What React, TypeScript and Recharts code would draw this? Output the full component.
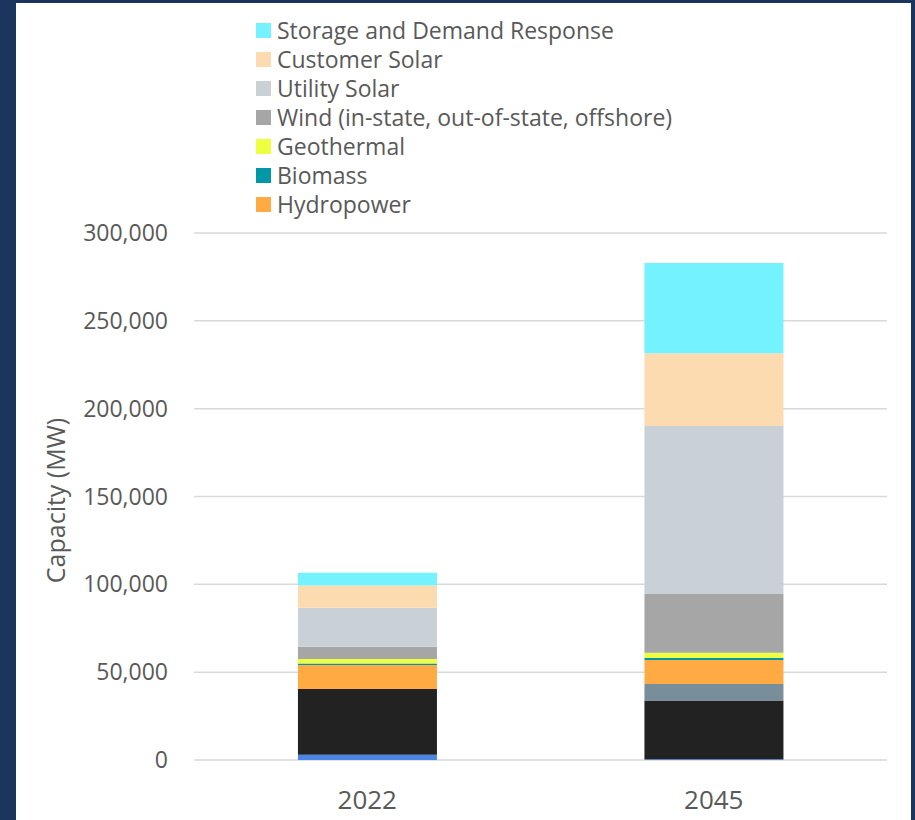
import React from 'react';
import { BarChart, Bar, XAxis, YAxis, CartesianGrid, Legend } from 'recharts';

// ---- data ----
const categories = ['2022', '2045'];
const nuclear = [3000, 400];
const naturalGas = [37400, 33400];
const zeroCarbonFirm = [0, 9500];
const hydropower = [13700, 13600];
const biomass = [900, 1200];
const geothermal = [2500, 3000];
const wind = [7000, 33400];
const utilitySolar = [22200, 95600];
const customerSolar = [12700, 41500];
const storage = [7200, 51300];
const yTicks = [0, 50000, 100000, 150000, 200000, 250000, 300000];

const data = categories.map((year, i) => ({
  year,
  nuclear: nuclear[i],
  naturalGas: naturalGas[i],
  zeroCarbonFirm: zeroCarbonFirm[i],
  hydropower: hydropower[i],
  biomass: biomass[i],
  geothermal: geothermal[i],
  wind: wind[i],
  utilitySolar: utilitySolar[i],
  customerSolar: customerSolar[i],
  storage: storage[i],
}));

// bottom -> top stacking order
const SERIES = [
  { key: 'nuclear', name: 'Nuclear', color: '#4A86E8', legend: false },
  { key: 'naturalGas', name: 'Natural Gas', color: '#222222', legend: false },
  { key: 'zeroCarbonFirm', name: 'Zero-Carbon Firm', color: '#788F9B', legend: false },
  { key: 'hydropower', name: 'Hydropower', color: '#FFAA42', legend: true },
  { key: 'biomass', name: 'Biomass', color: '#0097A7', legend: true },
  { key: 'geothermal', name: 'Geothermal', color: '#EEFF41', legend: true },
  { key: 'wind', name: 'Wind (in-state, out-of-state, offshore)', color: '#A6A6A6', legend: true },
  { key: 'utilitySolar', name: 'Utility Solar', color: '#C9D1D7', legend: true },
  { key: 'customerSolar', name: 'Customer Solar', color: '#FDDBB0', legend: true },
  { key: 'storage', name: 'Storage and Demand Response', color: '#75F2FF', legend: true },
];

const FONT = '"Open Sans", "Noto Sans", sans-serif';
const TEXT = '#595959';

const orderOf = (key: string) => SERIES.findIndex((s) => s.key === key);
const legendKeys = SERIES.filter((s) => s.legend).map((s) => s.key);

const renderLegend = (props: any) => {
  const items = (props.payload || [])
    .filter((p: any) => legendKeys.includes(p.dataKey))
    .slice()
    .sort((a: any, b: any) => orderOf(b.dataKey) - orderOf(a.dataKey));
  return (
    <div style={{ fontFamily: FONT }}>
      {items.map((p: any) => (
        <div
          key={p.dataKey}
          style={{ display: 'flex', alignItems: 'center', height: 29 }}
        >
          <span
            style={{
              display: 'inline-block',
              width: 15,
              height: 15,
              background: p.color,
              marginRight: 6,
              flex: 'none',
            }}
          />
          <span style={{ fontSize: 23, color: TEXT, lineHeight: '29px', whiteSpace: 'nowrap' }}>
            {p.value}
          </span>
        </div>
      ))}
    </div>
  );
};

const YLabel = (props: any) => {
  const vb = props.viewBox || {};
  const cx = 65;
  const cy = vb.y + vb.height / 2 + 4;
  return (
    <text
      x={cx}
      y={cy}
      transform={`rotate(-90, ${cx}, ${cy})`}
      textAnchor="middle"
      fontSize={25}
      fontFamily={FONT}
      fill={TEXT}
    >
      Capacity (MW)
    </text>
  );
};

export default function App() {
  return (
    <div
      style={{
        position: 'absolute',
        left: 0,
        top: 0,
        width: 915,
        height: 820,
        background: '#1C355E',
        overflow: 'hidden',
      }}
    >
      <div
        style={{
          position: 'absolute',
          left: 16,
          top: 3,
          width: 895,
          height: 817,
          background: '#FFFFFF',
        }}
      />
      <div style={{ position: 'absolute', left: 0, top: 0 }}>
        <BarChart
          width={915}
          height={820}
          data={data}
          margin={{ top: 233, right: 28, bottom: 0, left: 0 }}
          barCategoryGap="30%"
        >
          <CartesianGrid vertical={false} stroke="#D9D9D9" strokeWidth={1.5} />
          <XAxis
            dataKey="year"
            height={60}
            axisLine={false}
            tickLine={false}
            tickSize={0}
            tickMargin={31}
            tick={{ fontSize: 26, fill: TEXT, fontFamily: FONT }}
          />
          <YAxis
            width={194}
            domain={[0, 300000]}
            ticks={yTicks}
            axisLine={false}
            tickLine={false}
            tickSize={0}
            tickMargin={26}
            tick={{ fontSize: 23, fill: TEXT, fontFamily: FONT }}
            tickFormatter={(v: number) => v.toLocaleString('en-US')}
            label={{ content: YLabel }}
          />
          <Legend
            layout="vertical"
            align="center"
            verticalAlign="middle"
            wrapperStyle={{ top: 16, left: 256, width: 500 }}
            content={renderLegend}
          />
          {SERIES.map((s) => (
            <Bar
              key={s.key}
              dataKey={s.key}
              name={s.name}
              stackId="a"
              fill={s.color}
              isAnimationActive={false}
            />
          ))}
        </BarChart>
      </div>
    </div>
  );
}
